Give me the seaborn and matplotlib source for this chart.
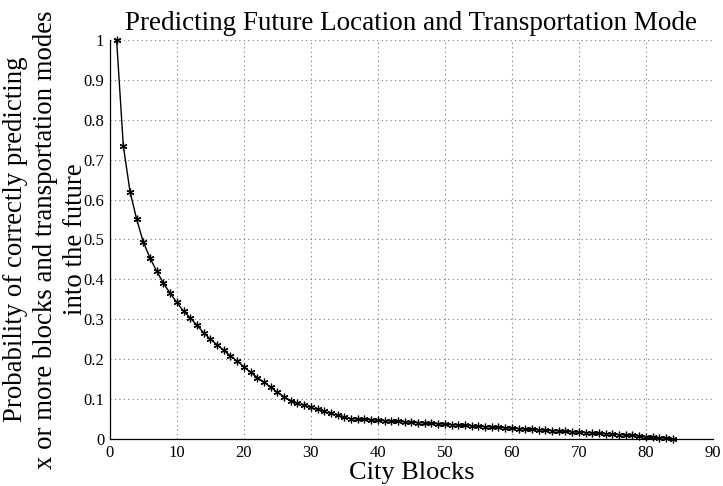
import matplotlib
matplotlib.use("Agg")
import matplotlib.pyplot as plt
import seaborn as sns
import pandas as pd

blocks = list(range(1, 85))
probability = [
    1.000, 0.735, 0.620, 0.550, 0.493, 0.453, 0.420, 0.390, 0.365, 0.342,
    0.320, 0.303, 0.285, 0.266, 0.250, 0.236, 0.222, 0.208, 0.195, 0.181,
    0.167, 0.154, 0.142, 0.130, 0.117, 0.106, 0.096, 0.089, 0.084, 0.079,
    0.074, 0.069, 0.064, 0.059, 0.054, 0.051, 0.050, 0.049, 0.048, 0.047,
    0.046, 0.045, 0.044, 0.043, 0.042, 0.041, 0.040, 0.039, 0.038, 0.037,
    0.036, 0.035, 0.034, 0.033, 0.032, 0.031, 0.030, 0.029, 0.028, 0.027,
    0.026, 0.025, 0.024, 0.023, 0.022, 0.021, 0.020, 0.019, 0.018, 0.017,
    0.016, 0.015, 0.014, 0.013, 0.012, 0.011, 0.010, 0.009, 0.007, 0.005,
    0.004, 0.003, 0.002, 0.000,
]
x_ticks = [0, 10, 20, 30, 40, 50, 60, 70, 80, 90]
y_ticks = [0, 0.1, 0.2, 0.3, 0.4, 0.5, 0.6, 0.7, 0.8, 0.9, 1]
y_tick_labels = ["0", "0.1", "0.2", "0.3", "0.4", "0.5", "0.6", "0.7", "0.8", "0.9", "1"]

title = "Predicting Future Location and Transportation Mode"
xlabel = "City Blocks"
ylabel = "Probability of correctly predicting\nx or more blocks and transportation modes\ninto the future"

sns.set_style("white")
plt.rcParams["font.family"] = ["Liberation Serif", "DejaVu Serif"]

df = pd.DataFrame({"blocks": blocks, "probability": probability})

fig = plt.figure(figsize=(7.23, 4.86), dpi=100)
ax = fig.add_axes([0.152, 0.0967, 0.834, 0.8213])
sns.lineplot(data=df, x="blocks", y="probability", ax=ax, color="black",
             linewidth=1.0, marker=(6, 2, 0), markersize=5.5,
             markeredgecolor="black", markeredgewidth=0.9, clip_on=False)

ax.set_xlim(0, 90)
ax.set_ylim(0, 1)
ax.set_xticks(x_ticks)
ax.set_yticks(y_ticks)
ax.set_yticklabels(y_tick_labels)
ax.tick_params(direction="in", length=5, width=0.8, labelsize=12, colors="black", pad=4)
ax.grid(True, linestyle=(0, (1, 3)), color="#777777", linewidth=0.8)
for s in ["top", "right"]:
    ax.spines[s].set_visible(False)
for s in ["left", "bottom"]:
    ax.spines[s].set_color("black")
    ax.spines[s].set_linewidth(0.9)

ax.set_title(title, fontsize=19.5, pad=7, color="black")
ax.set_xlabel(xlabel, fontsize=19, labelpad=1, color="black")
ax.set_ylabel(ylabel, fontsize=19.3, color="black", linespacing=1.25)
ax.yaxis.set_label_coords(-0.037, 0.5)

fig.savefig("out.png", dpi=100)
